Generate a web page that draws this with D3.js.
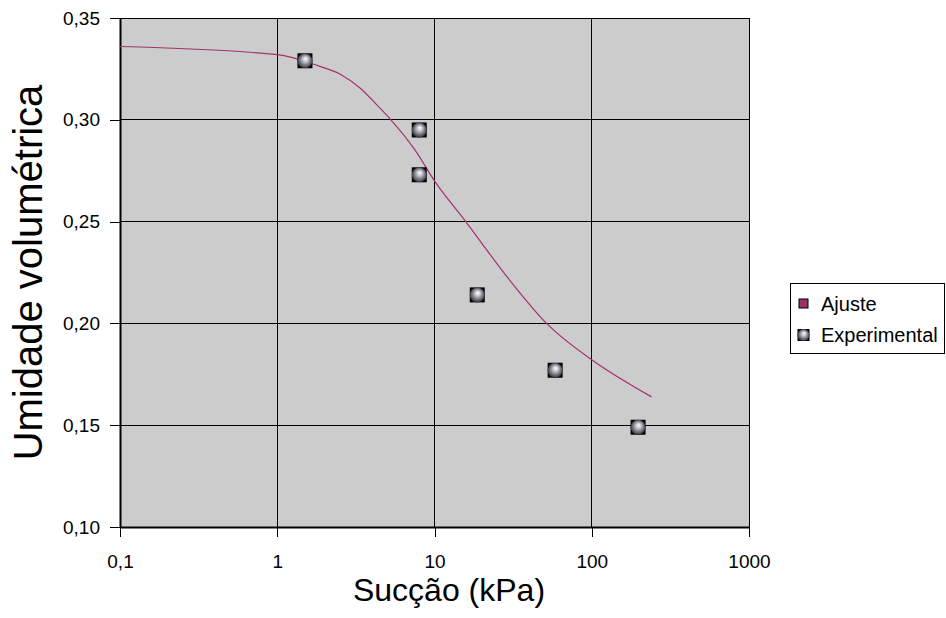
<!DOCTYPE html>
<html>
<head>
<meta charset="utf-8">
<script src="https://cdn.jsdelivr.net/npm/d3@7"></script>
<style>
  html, body { margin: 0; padding: 0; background: #ffffff; }
  svg { display: block; font-family: Arial, "Liberation Sans", Helvetica, sans-serif; }
</style>
</head>
<body>
<svg id="chart" width="946" height="618"></svg>
<script>
// Retention curve: measured points and fitted curve
const expSuction  = [1.5, 8.0, 8.0, 18.7, 58.5, 197];
const expMoisture = [0.329, 0.295, 0.273, 0.214, 0.177, 0.149];

const fitSuction  = [0.1, 1, 1.81, 2.5, 3.36, 4.5, 5.28, 7.51, 10, 15.8, 29.4, 51.6, 100, 240];
const fitMoisture = [0.336, 0.332, 0.3266, 0.3225, 0.3156, 0.3057, 0.300, 0.2852, 0.270, 0.250, 0.2222, 0.200, 0.1821, 0.1639];

const xTickValues = [0.1, 1, 10, 100, 1000];
const xTickLabels = ["0,1", "1", "10", "100", "1000"];
const yTickValues = [0.10, 0.15, 0.20, 0.25, 0.30, 0.35];
const yTickLabels = ["0,10", "0,15", "0,20", "0,25", "0,30", "0,35"];

const seriesNames = ["Ajuste", "Experimental"];
const xTitle = "Sucção (kPa)";
const yTitle = "Umidade volumétrica";

const FONT = "Arial, 'Liberation Sans', Helvetica, sans-serif";
const svg = d3.select("#chart");
const plot = { left: 120, right: 749, top: 18, bottom: 527 };

const x = d3.scaleLog().domain([0.1, 1000]).range([plot.left, plot.right]);
const y = d3.scaleLinear().domain([0.10, 0.35]).range([plot.bottom, plot.top]);

// sphere gradient for the measured points
const defs = svg.append("defs");
const grad = defs.append("radialGradient").attr("id", "sphere")
  .attr("cx", "50%").attr("cy", "50%").attr("r", "55%")
  .attr("fx", "55%").attr("fy", "35%");
grad.append("stop").attr("offset", "0%").attr("stop-color", "#ffffff");
grad.append("stop").attr("offset", "30%").attr("stop-color", "#c8c8d0");
grad.append("stop").attr("offset", "70%").attr("stop-color", "#6a6a72");
grad.append("stop").attr("offset", "100%").attr("stop-color", "#222226");

// plot background
svg.append("rect")
  .attr("x", plot.left).attr("y", plot.top)
  .attr("width", plot.right - plot.left).attr("height", plot.bottom - plot.top)
  .attr("fill", "#cccccc");

// gridlines
const grid = svg.append("g").attr("stroke", "#000").attr("stroke-width", 1).attr("shape-rendering", "crispEdges");
grid.selectAll(".gx").data(xTickValues).join("line")
  .attr("x1", d => x(d)).attr("x2", d => x(d))
  .attr("y1", plot.top).attr("y2", plot.bottom);
grid.selectAll(".gy").data(yTickValues).join("line")
  .attr("x1", plot.left).attr("x2", plot.right)
  .attr("y1", d => y(d)).attr("y2", d => y(d));

// plot frame
svg.append("rect")
  .attr("x", plot.left).attr("y", plot.top)
  .attr("width", plot.right - plot.left).attr("height", plot.bottom - plot.top)
  .attr("fill", "none").attr("stroke", "#000").attr("stroke-width", 1)
  .attr("shape-rendering", "crispEdges");

// axes
const xAxis = d3.axisBottom(x).tickValues(xTickValues)
  .tickFormat((d, i) => xTickLabels[i]).tickSizeInner(10).tickSizeOuter(0).tickPadding(18);
const yAxis = d3.axisLeft(y).tickValues(yTickValues)
  .tickFormat((d, i) => yTickLabels[i]).tickSizeInner(10).tickSizeOuter(0).tickPadding(10);

const gx = svg.append("g").attr("transform", `translate(0,${plot.bottom})`).call(xAxis);
const gy = svg.append("g").attr("transform", `translate(${plot.left},0)`).call(yAxis);
[gx, gy].forEach(g => {
  g.select(".domain").attr("stroke", "#000").attr("stroke-width", 2);
  g.selectAll(".tick line").attr("stroke", "#000").attr("stroke-width", 1).attr("shape-rendering", "crispEdges");
  g.selectAll(".tick text").attr("fill", "#000").attr("font-size", 19).attr("font-family", FONT);
});

// fitted curve
const line = d3.line()
  .x((d, i) => x(fitSuction[i]))
  .y(d => y(d))
  .curve(d3.curveMonotoneX);
svg.append("path")
  .datum(fitMoisture)
  .attr("d", line)
  .attr("fill", "none")
  .attr("stroke", "#a3336e")
  .attr("stroke-width", 1.2);

// measured points
const marker = (g, size) => {
  g.append("rect").attr("x", -size / 2).attr("y", -size / 2)
    .attr("width", size).attr("height", size).attr("fill", "#000");
  g.append("circle").attr("r", size / 2).attr("fill", "url(#sphere)");
};
const pts = svg.append("g");
expMoisture.forEach((v, i) => {
  const g = pts.append("g").attr("transform", `translate(${x(expSuction[i])},${y(v)})`);
  marker(g, 15);
});

// legend
const lg = svg.append("g");
lg.append("rect").attr("x", 790.5).attr("y", 283.5).attr("width", 154).attr("height", 70)
  .attr("fill", "#ffffff").attr("stroke", "#000").attr("stroke-width", 1);
lg.append("rect").attr("x", 799).attr("y", 299).attr("width", 9).attr("height", 9)
  .attr("fill", "#993366").attr("stroke", "#000").attr("stroke-width", 1);
const lm = lg.append("g").attr("transform", "translate(803.5,335)");
marker(lm, 12);
lg.selectAll("text").data(seriesNames).join("text")
  .attr("x", 821).attr("y", (d, i) => 311 + i * 31)
  .attr("font-size", 20).attr("font-family", FONT).attr("fill", "#000")
  .text(d => d);

// axis titles
svg.append("text")
  .attr("x", 449).attr("y", 601)
  .attr("text-anchor", "middle").attr("font-size", 32).attr("font-family", FONT).attr("fill", "#000")
  .text(xTitle);
svg.append("text")
  .attr("transform", `translate(42,${(plot.top + plot.bottom) / 2}) rotate(-90)`)
  .attr("text-anchor", "middle").attr("font-size", 40).attr("font-family", FONT).attr("fill", "#000")
  .text(yTitle);
</script>
</body>
</html>
